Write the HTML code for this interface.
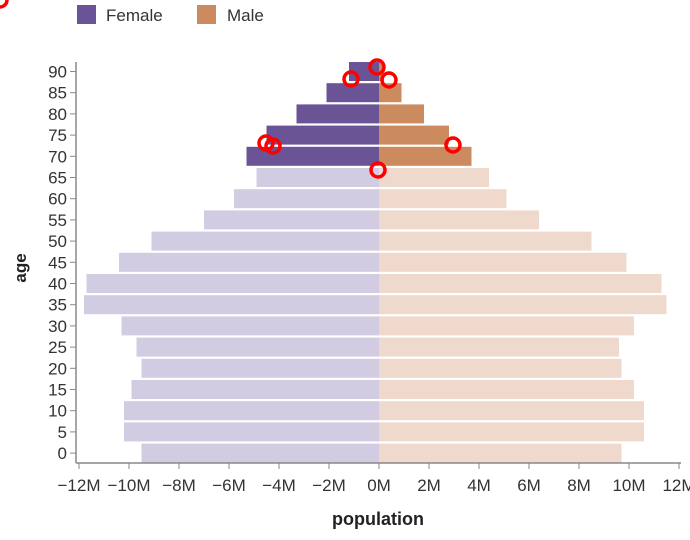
<!DOCTYPE html>
<html><head><meta charset="utf-8"><style>
body{margin:0;background:#fff;width:690px;height:535px;overflow:hidden}
text{font-family:"Liberation Sans",sans-serif}
</style></head><body>
<svg id="chart" width="690" height="535" xmlns="http://www.w3.org/2000/svg">
<g id="legend">
<g><rect x="77" y="5" width="19" height="19" fill="#6a5496"/><text x="106" y="21" font-size="17" fill="#333">Female</text></g>
<g><rect x="197" y="5" width="19" height="19" fill="#cc8a5f"/><text x="227" y="21" font-size="17" fill="#333">Male</text></g>
</g>
<g id="bars"></g>
<g id="axes"></g>
<text transform="translate(26,268) rotate(-90)" text-anchor="middle" font-size="17" font-weight="bold" fill="#222">age</text>
<text x="378" y="525" text-anchor="middle" font-size="18" font-weight="bold" fill="#222">population</text>
<g id="marks" fill="none" stroke="#f00" stroke-width="3.5"></g>
</svg>
<script>
const ages=[90,85,80,75,70,65,60,55,50,45,40,35,30,25,20,15,10,5,0];
const female=[1.2,2.1,3.3,4.5,5.3,4.9,5.8,7.0,9.1,10.4,11.7,11.8,10.3,9.7,9.5,9.9,10.2,10.2,9.5];
const male=[0.2,0.9,1.8,2.8,3.7,4.4,5.1,6.4,8.5,9.9,11.3,11.5,10.2,9.6,9.7,10.2,10.6,10.6,9.7];
const highlighted=[90,85,80,75,70];
const xTicks=[-12,-10,-8,-6,-4,-2,0,2,4,6,8,10,12];
const NS="http://www.w3.org/2000/svg";
const x=v=>379+25*v;
const step=21.2, y0=71.5;
const y=a=>y0+(90-a)/5*step;
function mk(t,attrs,parent){const e=document.createElementNS(NS,t);for(const k in attrs)e.setAttribute(k,attrs[k]);parent.appendChild(e);return e;}
const bars=document.getElementById('bars');
ages.forEach((a,i)=>{
  const hi=highlighted.includes(a);
  const f=mk('rect',{x:x(-female[i]),y:y(a)-9.5,width:x(0)-x(-female[i]),height:19,fill:hi?'#6a5496':'#d1cce2'},bars);
  
  
  const m=mk('rect',{x:x(0),y:y(a)-9.5,width:x(male[i])-x(0),height:19,fill:hi?'#cc8a5f':'#efd9cd'},bars);
  
  
});
const ax=document.getElementById('axes');
mk('line',{x1:76,y1:62,x2:76,y2:463,stroke:'#888','stroke-width':1.5},ax);
mk('line',{x1:76,y1:463,x2:681,y2:463,stroke:'#888','stroke-width':1.5},ax);
ages.forEach(a=>{
  mk('line',{x1:70,x2:76,y1:y(a),y2:y(a),stroke:'#888'},ax);
  const t=mk('text',{x:67,y:y(a)+6,'text-anchor':'end','font-size':17,fill:'#333'},ax);
  t.textContent=a;
  
  
});
xTicks.forEach(v=>{
  mk('line',{x1:x(v),x2:x(v),y1:463,y2:469,stroke:'#888'},ax);
  const t=mk('text',{x:x(v),y:491,'text-anchor':'middle','font-size':17,fill:'#333'},ax);
  t.textContent=(v<0?'\u2212'+(-v):v)+'M';
  
  
});
const marks=document.getElementById('marks');
[[0,0],[377,67],[351,79],[389,80],[266,143],[273,146],[453,145],[378,170]].forEach(p=>{
  const c=mk('circle',{cx:p[0],cy:p[1],r:7},marks);
  
  
});
</script>
</body></html>
